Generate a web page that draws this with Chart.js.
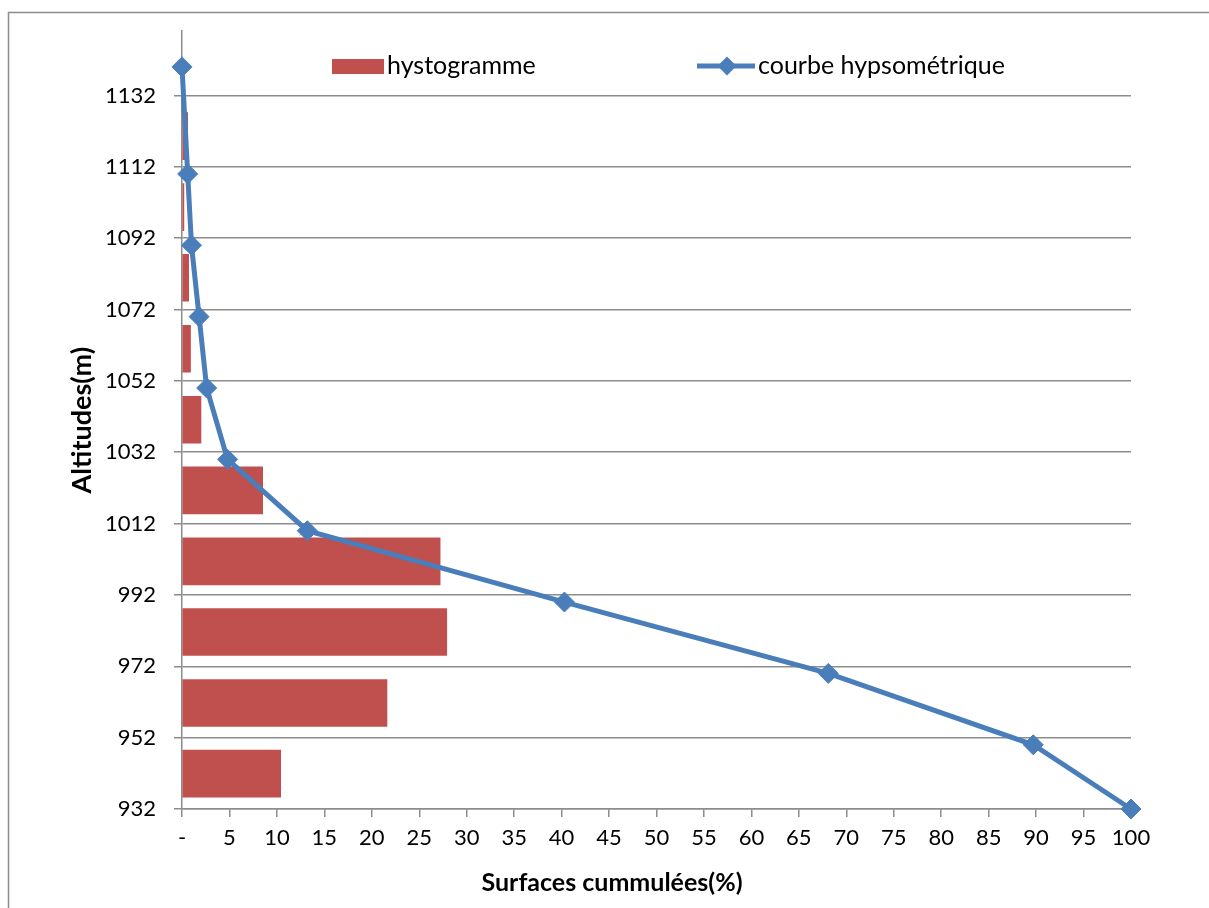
<!DOCTYPE html>
<html><head><meta charset="utf-8">
<script src="https://cdn.jsdelivr.net/npm/chart.js@4.4.0/dist/chart.umd.min.js"></script>
<style>html,body{margin:0;padding:0;background:#fff;overflow:hidden}#wrap{width:1209px;height:908px;position:relative}</style>
</head><body><div id="wrap"><canvas id="c" width="1209" height="908"></canvas></div>
<script>
// ---- data ----
const histAltitudes = [941.9, 961.7, 981.6, 1001.4, 1021.3, 1041.1, 1061, 1080.9, 1100.7, 1120.6];
const histValues    = [10.4, 21.6, 27.9, 27.2, 8.5, 2.0, 0.9, 0.7, 0.2, 0.6];
const curveAltitudes = [932, 950, 970, 990, 1010, 1030, 1050, 1070, 1090, 1110, 1140];
const curveValues    = [100, 89.7, 68.1, 40.3, 13.2, 4.8, 2.6, 1.8, 1.0, 0.6, 0];
const yTickValues = [932, 952, 972, 992, 1012, 1032, 1052, 1072, 1092, 1112, 1132];
const xTickStep = 5;
const seriesLabels = ['hystogramme', 'courbe hypsométrique'];
const xTitle = 'Surfaces cummulées(%)';
const yTitle = 'Altitudes(m)';

const RED = '#c0504d', BLUE = '#4a7ebb', GRID = '#8c8c8c';
const FONT = 'Lato, Calibri, sans-serif';

const frame = {
  id: 'frame',
  beforeDraw(chart) {
    const ctx = chart.ctx;
    ctx.save();
    ctx.strokeStyle = GRID; ctx.lineWidth = 1.5;
    ctx.beginPath();
    ctx.moveTo(8.5, 1000); ctx.lineTo(8.5, 12.5); ctx.lineTo(1300, 12.5);
    ctx.stroke();
    ctx.restore();
  },
  afterDraw(chart) {
    const ctx = chart.ctx;
    ctx.save();
    // legend
    ctx.fillStyle = RED;
    ctx.fillRect(332, 59, 52, 15);
    ctx.fillStyle = '#000';
    ctx.font = '25px ' + FONT;
    ctx.textBaseline = 'middle';
    ctx.textAlign = 'left';
    ctx.fillText(chart.data.datasets[1].label, 387, 66);
    ctx.strokeStyle = BLUE; ctx.lineWidth = 5;
    ctx.beginPath(); ctx.moveTo(697, 66); ctx.lineTo(755, 66); ctx.stroke();
    ctx.fillStyle = BLUE;
    ctx.beginPath(); ctx.moveTo(727, 56.5); ctx.lineTo(736.5, 66); ctx.lineTo(727, 75.5); ctx.lineTo(717.5, 66); ctx.closePath(); ctx.fill();
    ctx.fillStyle = '#000';
    ctx.fillText(chart.data.datasets[0].label, 758, 66);
    // x title
    ctx.font = 'bold 25px ' + FONT;
    ctx.textAlign = 'center';
    ctx.fillText(xTitle, 612, 883);
    ctx.restore();
  }
};

new Chart(document.getElementById('c'), {
  type: 'bar',
  data: {
    datasets: [
      {
        type: 'line', label: seriesLabels[1], order: 0,
        data: curveAltitudes.map((a, i) => ({x: curveValues[i], y: a})),
        borderColor: BLUE, backgroundColor: BLUE, borderWidth: 5,
        pointStyle: 'rectRot', pointRadius: 10, pointHoverRadius: 10,
        pointBackgroundColor: BLUE, pointBorderColor: BLUE, pointBorderWidth: 1,
        tension: 0, clip: false
      },
      {
        type: 'bar', label: seriesLabels[0], order: 1,
        data: histAltitudes.map((a, i) => ({x: histValues[i], y: a})),
        backgroundColor: RED, borderWidth: 0, barThickness: 47
      }
    ]
  },
  plugins: [frame],
  options: {
    indexAxis: 'y',
    responsive: false, animation: false,
    layout: {padding: {left: 0, top: 29, right: 78, bottom: 0}},
    plugins: {legend: {display: false}, tooltip: {enabled: false}},
    scales: {
      x: {
        type: 'linear', min: 0, max: 100, offset: false,
        afterFit(s) { s.height = 99; },
        ticks: {stepSize: xTickStep, color: '#000', font: {family: FONT, size: 22}, padding: 8,
          callback: v => v === 0 ? '-' : String(v), maxRotation: 0, autoSkip: false},
        grid: {drawOnChartArea: false, drawTicks: true, tickLength: 8, color: GRID, lineWidth: 1.5, offset: false},
        border: {display: true, color: GRID, width: 1.5}
      },
      y: {
        type: 'linear', min: 932, max: 1150, offset: false,
        afterFit(s) { s.width = 182; },
        afterBuildTicks(s) { s.ticks = yTickValues.map(v => ({value: v})); },
        ticks: {color: '#000', font: {family: FONT, size: 22}, padding: 18, autoSkip: false,
          callback: v => String(v)},
        grid: {color: GRID, lineWidth: 1.5, tickLength: 8, offset: false},
        border: {display: true, color: GRID, width: 1.5},
        title: {display: true, text: yTitle, color: '#000', font: {family: FONT, size: 27, weight: 'bold'}, padding: {top: 66, bottom: 0}}
      }
    }
  }
});
</script></body></html>
